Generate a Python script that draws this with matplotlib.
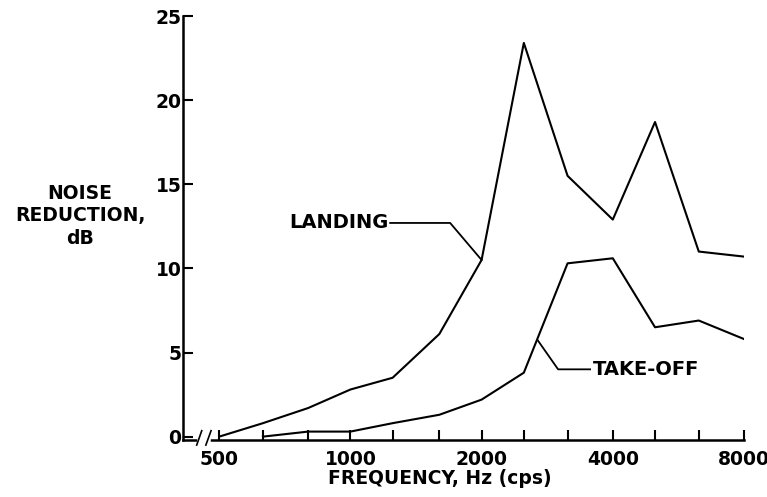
import numpy as np
import matplotlib
matplotlib.use("Agg")
import matplotlib.pyplot as plt
import matplotlib.transforms as mtransforms

# third-octave band centres, Hz
freq = [500, 630, 800, 1000, 1250, 1600, 2000, 2500, 3150, 4000, 5000, 6300, 8000]
landing = [0.0, 0.8, 1.7, 2.8, 3.5, 6.1, 10.5, 23.4, 15.5, 12.9, 18.7, 11.0, 10.7]
takeoff_freq = [630, 800, 1000, 1250, 1600, 2000, 2500, 3150, 4000, 5000, 6300, 8000]
takeoff = [0.0, 0.3, 0.3, 0.8, 1.3, 2.2, 3.8, 10.3, 10.6, 6.5, 6.9, 5.8]

major = [500, 1000, 2000, 4000, 8000]
yticks = [0, 5, 10, 15, 20, 25]

plt.rcParams['font.family'] = 'DejaVu Sans'
plt.rcParams['font.weight'] = 'bold'

fig = plt.figure(figsize=(7.67, 4.97), dpi=100)
ax = fig.add_axes([183/767, 1 - 440/497, (744-183)/767, (440-16)/497])

ax.plot(freq, landing, color='black', lw=1.5)
ax.plot(takeoff_freq, takeoff, color='black', lw=1.5)

ax.set_xscale('log')
ax.set_xlim(413, 8000)
ax.set_ylim(-0.2, 25)

ax.set_xticks(freq)
ax.set_xticklabels([str(f) if f in major else '' for f in freq])
ax.xaxis.set_minor_locator(matplotlib.ticker.NullLocator())
ax.set_yticks(yticks)
ax.tick_params(direction='in', length=7, width=1.5, labelsize=13.5)
ax.tick_params(axis='x', pad=7)
ax.tick_params(axis='y', pad=1)

for s in ['top', 'right']:
    ax.spines[s].set_visible(False)
for s in ['left', 'bottom']:
    ax.spines[s].set_linewidth(1.8)

# axis break near 500
tr = mtransforms.blended_transform_factory(ax.transData, ax.transAxes)
ax.plot([451, 472], [0, 0], transform=tr, color='white', lw=4, clip_on=False, zorder=5)
ax.plot([444, 456], [-0.012, 0.022], transform=tr, color='black', lw=1.2, clip_on=False, zorder=6)
ax.plot([466, 479], [-0.012, 0.022], transform=tr, color='black', lw=1.2, clip_on=False, zorder=6)

# labels with leader lines
ax.plot([1234, 1694, 2000], [12.7, 12.7, 10.5], color='black', lw=1.3)
ax.text(1225, 12.7, 'LANDING', ha='right', va='center', fontsize=14, fontweight='bold')
ax.plot([2695, 2996, 3548], [5.7, 4.0, 4.0], color='black', lw=1.3)
ax.text(3604, 4.0, 'TAKE-OFF', ha='left', va='center', fontsize=14, fontweight='bold')

fig.text(80/767, 1 - 216/497, 'NOISE\nREDUCTION,\ndB', ha='center', va='center',
         multialignment='center', fontsize=13.5, fontweight='bold', linespacing=1.25)
fig.text(440/767, 1 - 479/497, 'FREQUENCY, Hz (cps)', ha='center', va='center',
         fontsize=13.5, fontweight='bold')

fig.savefig('out.png', dpi=100)
